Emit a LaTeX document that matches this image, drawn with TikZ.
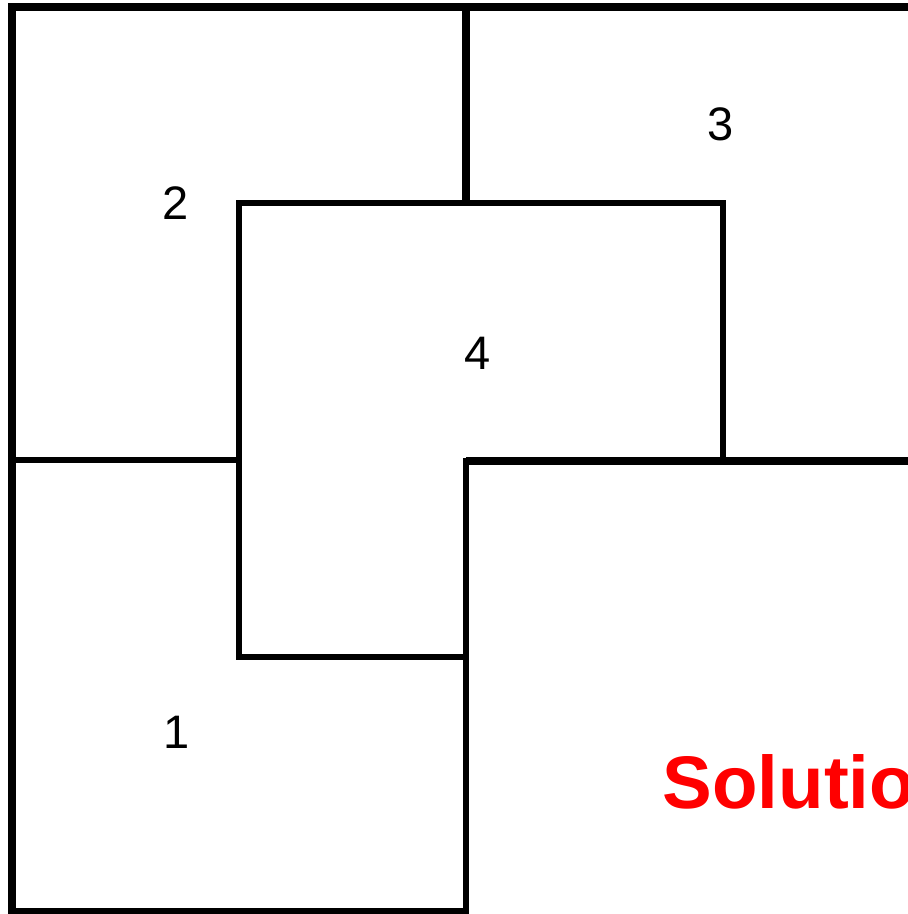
\documentclass[tikz,border=0pt]{standalone}
\usepackage{fontspec}
\setmainfont{Liberation Sans}
\begin{document}
\begin{tikzpicture}[x=1pt,y=-1pt,
  thickline/.style={line width=7.5pt, line join=miter, line cap=butt},
  thinline/.style={line width=5.5pt, line join=miter, line cap=rect},
  num/.style={font=\fontsize{47}{47}\selectfont, inner sep=0pt, anchor=base}]
\useasboundingbox (0,0) rectangle (908,914);
% outer thick lines
\draw[thickline] (908,7) -- (12,7) -- (12,914);
\draw[thickline] (466,7) -- (466,203);
\draw[thickline] (466,461) -- (908,461);
% thin lines
\draw[thinline] (12,460) -- (239,460);
\draw[thinline] (723,461) -- (723,203) -- (239,203) -- (239,657) -- (466,657);
\draw[thinline] (466,461) -- (466,911) -- (12,911);
% labels
\node[num] (n2) at (176,219) {2};
\node[num] (n3) at (721,140) {3};
\node[num] (n4) at (478,369) {4};
\node[num] (n1) at (177,748) {1};
\node[font=\fontsize{74.5}{74.5}\selectfont\bfseries, text=red, inner sep=0pt, anchor=base west] (sol) at (662.5,808) {Solution};
\end{tikzpicture}
\end{document}
